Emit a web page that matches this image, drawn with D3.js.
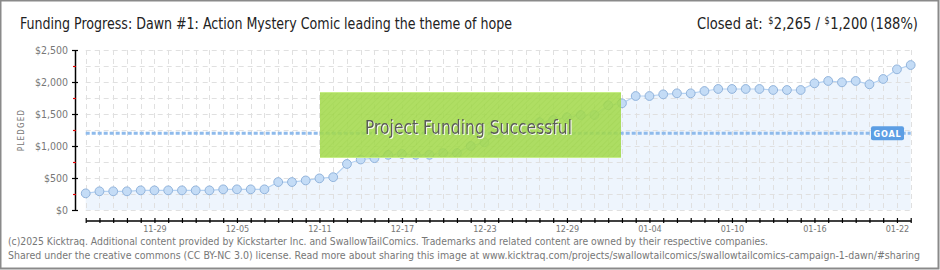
<!DOCTYPE html>
<html><head><meta charset="utf-8">
<script src="https://cdn.jsdelivr.net/npm/d3@7"></script>
<style>body{margin:0;background:#fff}svg{display:block}</style>
</head><body><svg id="c" width="940" height="270"></svg>
<script>
const dates = ["11-24","11-25","11-26","11-27","11-28","11-29","11-30","12-01","12-02","12-03","12-04","12-05","12-06","12-07","12-08","12-09","12-10","12-11","12-12","12-13","12-14","12-15","12-16","12-17","12-18","12-19","12-20","12-21","12-22","12-23","12-24","12-25","12-26","12-27","12-28","12-29","12-30","12-31","01-01","01-02","01-03","01-04","01-05","01-06","01-07","01-08","01-09","01-10","01-11","01-12","01-13","01-14","01-15","01-16","01-17","01-18","01-19","01-20","01-21","01-22","01-23"];
const pledged = [260,292,292,292,307,307,307,307,307,307,323,323,323,323,437,437,462,494,513,719,789,810,862,875,862,862,890,890,1000,1058,1196,1270,1330,1372,1406,1450,1484,1484,1637,1667,1781,1781,1807,1823,1823,1859,1891,1891,1891,1891,1875,1875,1875,1979,2016,1995,2016,1964,2047,2198,2265];
const xLabels = ["11-29","12-05","12-11","12-17","12-23","12-29","01-04","01-10","01-16","01-22"];
const yMajor = [0,500,1000,1500,2000,2500];
const yMinor = [250,750,1250,1750,2250];
const yGrid = [0,250,500,750,1000,1250,1500,1750,2000,2250,2500];
const goal = 1200;
const title = "Funding Progress: Dawn #1: Action Mystery Comic leading the theme of hope";
const footer = ["(c)2025 Kicktraq. Additional content provided by Kickstarter Inc. and SwallowTailComics. Trademarks and related content are owned by their respective companies.",
"Shared under the creative commons (CC BY-NC 3.0) license. Read more about sharing this image at www.kicktraq.com/projects/swallowtailcomics/swallowtailcomics-campaign-1-dawn/#sharing"];

const svg = d3.select("#c");
const FONT = "'DejaVu Sans Condensed','DejaVu Sans',sans-serif";
const x = d3.scalePoint().domain(dates).range([85.7, 910.7]);
const y = d3.scaleLinear().domain([0, 2500]).range([210, 50]);

const defs = svg.append("defs");
const pat = defs.append("pattern").attr("id","hatch").attr("patternUnits","userSpaceOnUse")
  .attr("width",4).attr("height",4).attr("patternTransform","rotate(45)");
pat.append("rect").attr("width",4).attr("height",4).attr("fill","#a4da4e");
pat.append("line").attr("x1",0).attr("y1",0).attr("x2",0).attr("y2",4).attr("stroke","#9bd243").attr("stroke-width",1.5);
const sh = defs.append("filter").attr("id","wshadow").attr("x","-5%").attr("y","-20%").attr("width","110%").attr("height","140%");
sh.append("feDropShadow").attr("dx",1).attr("dy",1).attr("stdDeviation",0).attr("flood-color","#ffffff").attr("flood-opacity",0.9);

// frame
svg.append("rect").attr("x",0.5).attr("y",0.5).attr("width",938).attr("height",268)
  .attr("fill","#fff").attr("stroke","#8a8a8a").attr("stroke-width",2);

// title
svg.append("text").attr("x",20).attr("y",29).attr("font-family",FONT).attr("font-size",16)
  .attr("fill","#222").attr("textLength",492).attr("lengthAdjust","spacingAndGlyphs").text(title);

// closed-at text as separate pieces laid out left to right
const last = pledged[pledged.length-1];
const pieces = [
  {t:"Closed at:", s:16, dy:0, gap:6},
  {t:"$", s:10, dy:-5, gap:0.5},
  {t:d3.format(",")(last) + " /", s:16, dy:0, gap:5},
  {t:"$", s:10, dy:-5, gap:0.5},
  {t:d3.format(",")(goal), s:16, dy:0, gap:3},
  {t:"(" + Math.floor(last/goal*100) + "%)", s:16, dy:0, gap:0}
];
const ctg = svg.append("g");
let cx = 0;
pieces.forEach(p => {
  const t = ctg.append("text").attr("x",cx).attr("y",29+p.dy).attr("font-family",FONT)
    .attr("font-size",p.s).attr("fill","#222").text(p.t);
  cx += t.node().getComputedTextLength() + p.gap;
});
const targetW = 221, sc = Math.min(1, targetW/cx);
ctg.attr("transform",`translate(${918 - cx*sc},0) scale(${sc},1)`);

// area
const area = d3.area().x((d,i)=>x(dates[i])).y0(y(0)).y1(d=>y(d));
svg.append("path").datum(pledged).attr("d",area).attr("fill","#eef5fd");

// grid
const grid = svg.append("g").attr("stroke","#e0e0e0").attr("stroke-dasharray","5,4").attr("stroke-width",1);
grid.selectAll("line.v").data(dates).join("line").attr("x1",d=>Math.round(x(d))+0.5).attr("x2",d=>Math.round(x(d))+0.5)
  .attr("y1",y(2500)).attr("y2",y(0));
grid.selectAll("line.h").data(yGrid).join("line").attr("y1",d=>Math.round(y(d))+0.5).attr("y2",d=>Math.round(y(d))+0.5)
  .attr("x1",x(dates[0])).attr("x2",x(dates[dates.length-1]));

// goal line
svg.append("line").attr("x1",x(dates[0])).attr("x2",x(dates[dates.length-1])).attr("y1",y(goal)).attr("y2",y(goal))
  .attr("stroke","#8fbbec").attr("stroke-width",3).attr("stroke-dasharray","4,2");

// line + points
const line = d3.line().x((d,i)=>x(dates[i])).y(d=>y(d));
svg.append("path").datum(pledged).attr("d",line).attr("fill","none").attr("stroke","#b5d2f2").attr("stroke-width",1.2);
svg.selectAll("circle.pt").data(pledged).join("circle").attr("class","pt")
  .attr("cx",(d,i)=>x(dates[i])).attr("cy",d=>y(d)).attr("r",4.4)
  .attr("fill","#c4dcf6").attr("stroke","#92b4dc").attr("stroke-width",1);

// goal label
const gx = 871, gy = y(goal);
svg.append("rect").attr("x",gx).attr("y",gy-7).attr("width",33).attr("height",14).attr("rx",2)
  .attr("fill","#5c9ee4");
svg.append("text").attr("x",gx+16.5).attr("y",gy+3.5).attr("text-anchor","middle").attr("font-family",FONT)
  .attr("font-size",9).attr("font-weight","bold").attr("letter-spacing",0.8).attr("fill","#fff").text("GOAL");

// y axis
const ya = svg.append("g");
ya.append("line").attr("x1",75.5).attr("x2",75.5).attr("y1",y(2500)).attr("y2",y(0)).attr("stroke","#000").attr("stroke-width",1.5);
ya.selectAll("line.maj").data(yMajor).join("line").attr("x1",72).attr("x2",78)
  .attr("y1",d=>Math.round(y(d))+0.5).attr("y2",d=>Math.round(y(d))+0.5).attr("stroke","#000").attr("stroke-width",1.2);
ya.selectAll("line.min").data(yMinor).join("line").attr("x1",73).attr("x2",76)
  .attr("y1",d=>Math.round(y(d))+0.5).attr("y2",d=>Math.round(y(d))+0.5).attr("stroke","#d00").attr("stroke-width",1.2);
ya.selectAll("text").data(yMajor).join("text").attr("x",68).attr("y",d=>y(d)+4).attr("text-anchor","end")
  .attr("font-family",FONT).attr("font-size",10.5).attr("fill","#777").text(d=>"$"+d3.format(",")(d));
svg.append("text").attr("transform","translate(24,130) rotate(-90)").attr("text-anchor","middle")
  .attr("font-family",FONT).attr("font-size",8).attr("letter-spacing",1.2).attr("fill","#777").text("PLEDGED");

// x axis
const xa = svg.append("g").attr("transform","translate(0,220.5)")
  .call(d3.axisBottom(x).tickValues(dates).tickSizeOuter(0).tickSizeInner(5)
    .tickFormat(d=>xLabels.includes(d)?d:""));
xa.select(".domain").attr("stroke","#000").attr("stroke-width",1.5);
xa.selectAll(".tick line").attr("y1",-2.5).attr("y2",2.5).attr("stroke","#000").attr("stroke-width",1.2);
xa.selectAll(".tick text").attr("y",5).attr("font-family",FONT).attr("font-size",9).attr("fill","#777");

// success banner
const b = svg.append("g");
b.append("rect").attr("x",320).attr("y",92).attr("width",301).attr("height",66)
  .attr("fill","url(#hatch)").attr("opacity",0.88);
b.append("line").attr("x1",320).attr("x2",621).attr("y1",92.5).attr("y2",92.5).attr("stroke","#c6ee86");
b.append("line").attr("x1",320).attr("x2",621).attr("y1",157.5).attr("y2",157.5).attr("stroke","#c6ee86");
b.append("text").attr("x",468.5).attr("y",133.5).attr("text-anchor","middle").attr("font-family",FONT)
  .attr("font-size",19).attr("fill","#5a5a5a").attr("filter","url(#wshadow)")
  .attr("textLength",207).attr("lengthAdjust","spacingAndGlyphs").text("Project Funding Successful");

// footer
svg.selectAll("text.ft").data(footer).join("text").attr("class","ft").attr("x",8).attr("y",(d,i)=>245+i*13.5)
  .attr("font-family",FONT).attr("font-size",10).attr("fill","#777")
  .attr("textLength",(d,i)=>i===0?760:912).attr("lengthAdjust","spacingAndGlyphs").text(d=>d);
</script></body></html>
